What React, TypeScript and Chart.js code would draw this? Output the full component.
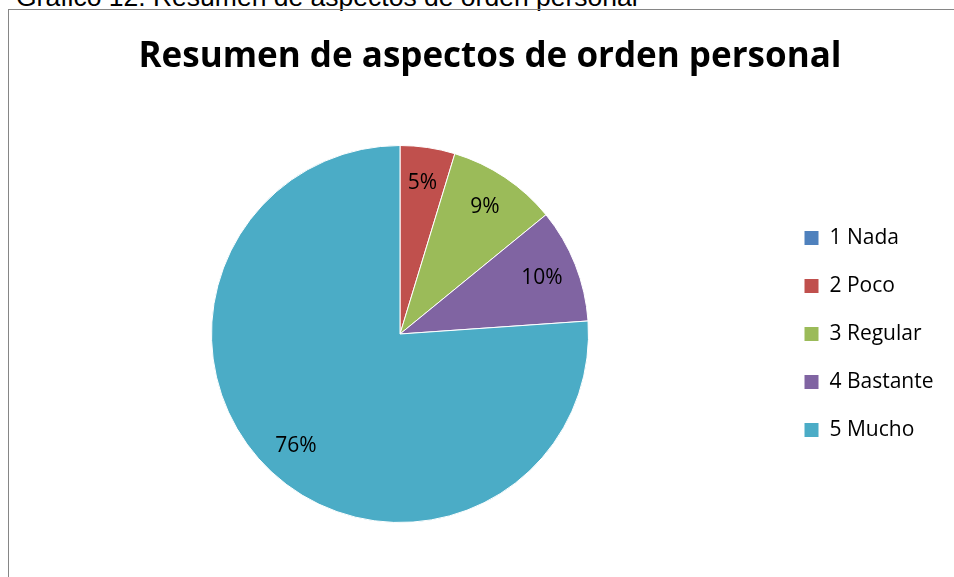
import React, { useEffect, useRef } from "react";
import { Chart, registerables } from "chart.js";

Chart.register(...registerables);

const caption = "Gráfico 12. Resumen de aspectos de orden personal";
const chartTitle = "Resumen de aspectos de orden personal";
const categories = ["1 Nada", "2 Poco", "3 Regular", "4 Bastante", "5 Mucho"];
const percentages = [0, 4.7, 9.4, 9.8, 76.1];
const sliceColors = ["#4F81BD", "#C0504D", "#9BBB59", "#8064A2", "#4BACC6"];

const FONT = "'Open Sans', Lato, sans-serif";

const legendWidthPlugin = {
  id: "legendWidth",
  beforeLayout(chart: any) {
    const lg = chart.legend;
    if (lg && !lg.__patched) {
      const fit = lg.fit;
      lg.fit = function () {
        fit.call(this);
        this.width = 180;
      };
      lg.__patched = true;
    }
  },
};

const pieLabelsPlugin = {
  id: "pieLabels",
  afterDatasetsDraw(chart: any) {
    const ctx = chart.ctx;
    const meta = chart.getDatasetMeta(0);
    ctx.save();
    ctx.font = `21px ${FONT}`;
    ctx.fillStyle = "#000";
    ctx.textAlign = "center";
    ctx.textBaseline = "middle";
    meta.data.forEach((arc: any, i: number) => {
      const v = percentages[i];
      if (!v) return;
      const p = arc.getProps(["x", "y", "startAngle", "endAngle", "outerRadius"], true);
      const mid = (p.startAngle + p.endAngle) / 2;
      const r = p.outerRadius * 0.81;
      ctx.fillText(`${Math.round(v)}%`, p.x + Math.cos(mid) * r, p.y + Math.sin(mid) * r);
    });
    ctx.restore();
  },
};

export default function App() {
  const canvasRef = useRef<HTMLCanvasElement | null>(null);

  useEffect(() => {
    if (!canvasRef.current) return;
    const titleSize = 35;
    const lh = titleSize * 1.2;
    const titleCenter = 47;
    const chart = new Chart(canvasRef.current, {
      type: "pie",
      data: {
        labels: categories,
        datasets: [
          {
            data: percentages,
            backgroundColor: sliceColors,
            borderColor: "#ffffff",
            borderWidth: 1,
          },
        ],
      },
      options: {
        responsive: false,
        animation: false,
        layout: { padding: { top: 0, left: 14, right: 14, bottom: 107 } },
        plugins: {
          title: {
            display: true,
            text: chartTitle,
            color: "#000",
            font: { family: FONT, size: titleSize, weight: "bold", lineHeight: 1.2 },
            padding: { top: titleCenter - lh / 2, bottom: 135 - (titleCenter - lh / 2) - lh },
          },
          legend: {
            position: "right",
            align: "center",
            fullSize: false,
            labels: {
              color: "#000",
              font: { family: FONT, size: 21 },
              boxWidth: 15,
              boxHeight: 15,
              padding: 27,
            },
          },
          tooltip: { enabled: false },
        },
      },
      plugins: [legendWidthPlugin, pieLabelsPlugin],
    } as any);
    return () => chart.destroy();
  }, []);

  return (
    <div
      style={{
        position: "fixed",
        left: 0,
        top: 0,
        width: 954,
        height: 577,
        overflow: "hidden",
        background: "#fff",
      }}
    >
      <div
        style={{
          position: "absolute",
          left: 16,
          top: -16,
          font: "26.5px 'Liberation Sans', Arial, sans-serif",
          lineHeight: "26.5px",
          whiteSpace: "nowrap",
          color: "#000",
        }}
      >
        {caption}
      </div>
      <div
        style={{
          position: "absolute",
          left: 8,
          top: 9,
          width: 962,
          height: 620,
          border: "1px solid #868686",
        }}
      >
        <canvas
          ref={canvasRef}
          width={962}
          height={620}
          style={{ display: "block", width: 962, height: 620 }}
        />
      </div>
    </div>
  );
}
